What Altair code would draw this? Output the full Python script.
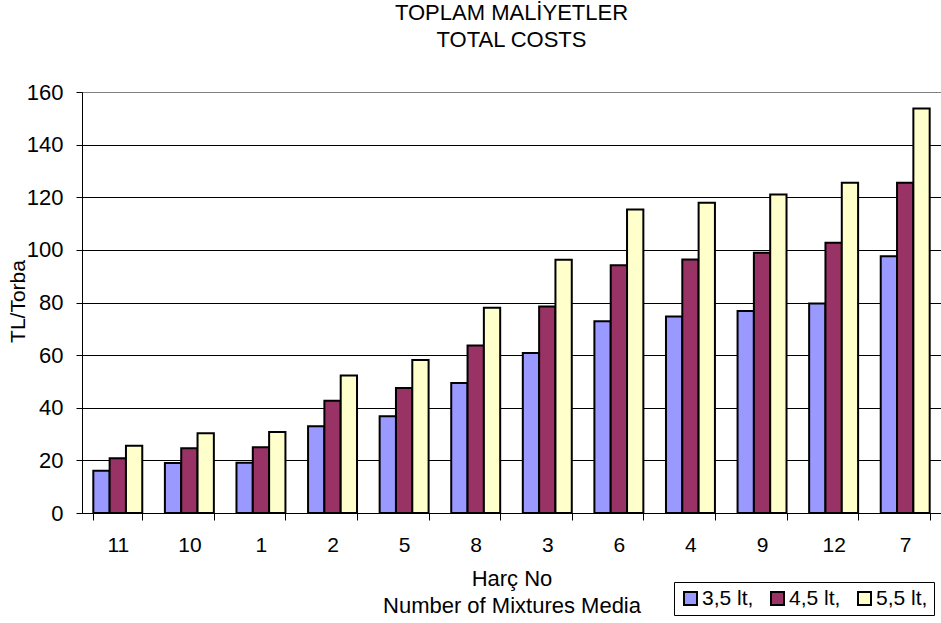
import altair as alt
import pandas as pd

harc = ["11", "10", "1", "2", "5", "8", "3", "6", "4", "9", "12", "7"]
series = ["3,5 lt,", "4,5 lt,", "5,5 lt,"]
v35 = [16.1, 19.0, 19.1, 33.0, 36.8, 49.4, 60.8, 72.9, 74.7, 76.8, 79.6, 97.6]
v45 = [20.8, 24.6, 25.0, 42.7, 47.5, 63.7, 78.5, 94.2, 96.3, 98.9, 102.7, 125.5]
v55 = [25.6, 30.3, 30.8, 52.3, 58.1, 78.0, 96.2, 115.3, 117.9, 121.0, 125.5, 153.7]
colors = ["#9999FF", "#993366", "#FFFFCC"]
y_ticks = [0, 20, 40, 60, 80, 100, 120, 140, 160]

rows = []
for s, vals in zip(series, [v35, v45, v55]):
    for h, v in zip(harc, vals):
        rows.append({"harc": h, "seri": s, "deger": v})
df = pd.DataFrame(rows)

FONT = "Liberation Sans"

chart = alt.Chart(df).mark_bar(stroke="black", strokeWidth=2).encode(
    x=alt.X(
        "harc:N",
        sort=harc,
        scale=alt.Scale(paddingInner=0.316, paddingOuter=0.158),
        axis=alt.Axis(
            title=["Harç No", "Number of Mixtures Media"],
            labelAngle=0,
            tickBand="extent",
            tickSize=7,
            labelPadding=14,
            labelFontSize=21,
            labelFont=FONT,
            labelColor="black",
            titleFont=FONT,
            titleFontSize=22,
            titleFontWeight="normal",
            titleColor="black",
            titleLineHeight=27,
            titleBaseline="alphabetic",
            titleY=72,
            domainColor="black",
            tickColor="black",
            grid=False,
        ),
    ),
    xOffset=alt.XOffset("seri:N", sort=series, scale=alt.Scale(paddingInner=0, paddingOuter=0)),
    y=alt.Y(
        "deger:Q",
        scale=alt.Scale(domain=[0, 160], nice=False),
        axis=alt.Axis(
            values=y_ticks,
            title="TL/Torba",
            tickSize=6,
            labelPadding=13,
            labelFontSize=22,
            labelFont=FONT,
            labelColor="black",
            titleFont=FONT,
            titleFontSize=21,
            titleFontWeight="normal",
            titleColor="black",
            titleAngle=270,
            titleX=-64,
            titleY=209,
            titleAlign="center",
            titleBaseline="middle",
            domainColor="black",
            tickColor="black",
            grid=True,
            gridColor={"condition": {"test": "datum.value === 160", "value": "#808080"}, "value": "black"},
            gridOpacity=1,
            gridWidth=1,
        ),
    ),
    color=alt.Color(
        "seri:N",
        sort=series,
        scale=alt.Scale(domain=series, range=colors),
        legend=alt.Legend(
            title=None,
            orient="none",
            legendX=592,
            legendY=490,
            direction="horizontal",
            symbolType="square",
            symbolSize=169,
            symbolStrokeColor="black",
            symbolStrokeWidth=2,
            symbolOpacity=1,
            labelFont=FONT,
            labelFontSize=21,
            labelColor="black",
            labelOffset=1,
            columnPadding=13,
            padding=6,
            strokeColor="black",
            fillColor="white",
            cornerRadius=0,
        ),
    ),
).properties(
    width=859,
    height=421,
    title=alt.TitleParams(
        ["TOPLAM MALİYETLER", "TOTAL COSTS"],
        font=FONT,
        fontSize=22,
        fontWeight="normal",
        color="black",
        anchor="middle",
        lineHeight=27,
        offset=29,
    ),
    padding={"left": 82, "top": 92, "right": 0, "bottom": 110},
    autosize=alt.AutoSizeParams(type="none"),
).configure_view(stroke="#808080", strokeWidth=1)

chart.save("out.html", embed_options={"renderer": "svg", "actions": False})
